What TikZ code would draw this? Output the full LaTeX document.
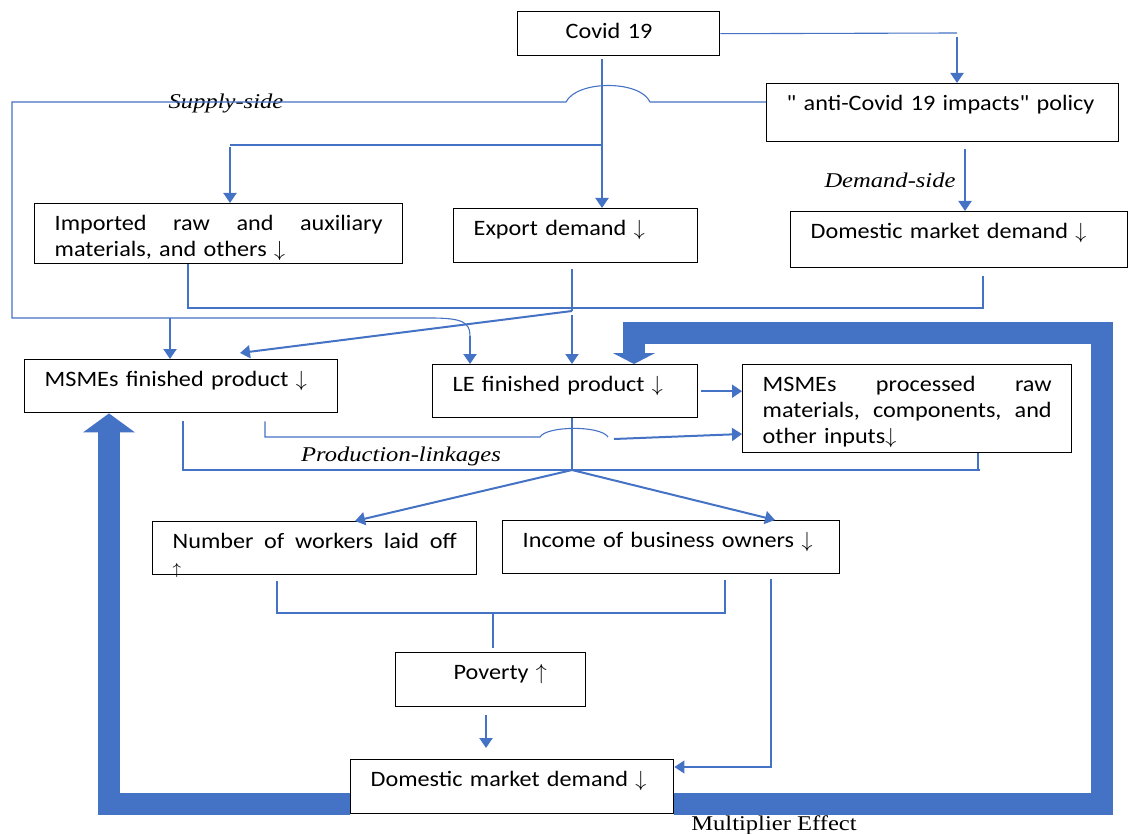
\documentclass[tikz,border=0pt]{standalone}
\usepackage{fontspec}
\setmainfont{Carlito}[FakeStretch=1.1,Ligatures=TeXOff]
\newfontfamily\labelfont{Liberation Serif}[FakeStretch=1.17]
\usetikzlibrary{arrows.meta,calc}
\definecolor{lnblue}{HTML}{4472C4}
\newcommand{\dnarr}{$\downarrow$}
\newcommand{\uparr}{$\uparrow$}

\begin{document}
\begin{tikzpicture}[x=0.5pt,y=-0.5pt,
    box/.style={draw=black,line width=0.7pt,anchor=north west,align=left,
      inner xsep=10pt,inner ysep=0pt,text height=13.5pt,
      font=\fontsize{11}{13}\selectfont},
    ln/.style={draw=lnblue,line width=0.55pt},
    arr/.style={draw=lnblue,line width=1pt,-{Triangle[length=5pt,width=6.5pt]}},
    tag/.style={font=\labelfont\fontsize{10.5}{12}\selectfont\itshape},
    loopband/.style={draw=lnblue,line width=11pt,line join=miter}]
      \useasboundingbox (0,0) rectangle (1129,834);
      \node[box,text width=81pt,text depth=8.5pt] (cov) at (517,11) {\hspace{14pt}Covid 19};
      \node[box,text width=156pt,text depth=15.5pt] (pol) at (766,83) {" anti-Covid 19 impacts" policy};
      \node[box,text width=164pt,text depth=16.5pt] (imp) at (34,203) {Imported\hfill raw\hfill and\hfill auxiliary\\materials, and others \dnarr};
      \node[box,text width=102pt,text depth=13.5pt] (exp) at (453,208) {Export demand \dnarr};
      \node[box,text width=148.5pt,text depth=14.5pt] (dmd1) at (790,211) {Domestic market demand \dnarr};
      \node[box,text width=136.5pt,text depth=13pt] (fin) at (24,359) {MSMEs finished product \dnarr};
      \node[box,text width=112.5pt,text depth=13pt] (le) at (432,364) {LE finished product \dnarr};
      \node[box,text width=144.5pt,text depth=30.5pt] (proc) at (742,364) {MSMEs\hfill processed\hfill raw\\materials,\hfill components,\hfill and\\other inputs\dnarr};
      \node[box,text width=142pt,text depth=13pt] (lay) at (152,521) {Number\hfill of\hfill workers\hfill laid\hfill off\\{\fontsize{8}{9}\selectfont$\uparrow$}};
      \node[box,text width=148.5pt,text depth=13pt] (inc) at (502,520) {Income of business owners \dnarr};
      \node[box,text width=75pt,text depth=13.5pt] (pov) at (395,652) {\hspace{19pt}Poverty \uparr};
      \node[box,text width=141.5pt,text depth=13.5pt] (dmd2) at (350,759) {Domestic market demand \dnarr};
      \node[tag] (sup) at (226,103) {Supply-side};
      \node[tag] (dem) at (890,180) {Demand-side};
      \node[tag] (prl) at (401,456) {Production-linkages};
      \node[font=\labelfont\fontsize{10.5}{12}\selectfont] (mul) at (774,825) {Multiplier Effect};
      \coordinate (c1) at (957,33);
      \coordinate (c2) at (602,145);
      \coordinate (c3) at (230,145);
      \coordinate (s1) at (12,318);
      \coordinate (s2) at (470,336);
      \coordinate (s3) at (170,318);
      \coordinate (j1) at (572,311);
      \coordinate (j2) at (572,470);
      \coordinate (j3) at (493,613);
      \coordinate (p1) at (614,439);
      % covid 19 and policy
      \draw[ln] (cov.east) -- (c1);
      \draw[arr] ([yshift=-2pt]c1) -- (pol.north -| c1);
      \draw[arr] ($(cov.south -| 602,0)+(0,3)$) -- (exp.north -| 602,0);
      \draw[arr] ($(pol.south -| 965,0)+(0,7)$) -- (dmd1.north -| 965,0);
      % supply-side
      \draw[ln] (pol.west |- 0,102) -- (650,102) .. controls (640,80) and (577,80) .. (566,102)
        -- (s1 |- 0,102) -- (s1) -- (430,318) .. controls (462,318) and (470,322) .. (s2);
      \draw[arr] (s2) -- (le.north -| s2);
      \draw[arr] (s3) -- (fin.north -| s3);
      \draw[ln] (c2) -- (c3);
      \draw[arr] ([yshift=-1pt]c3) -- (imp.north -| c3);
      \draw[ln] (imp.south -| 188,0) -- (188,308) -- (983,308) -- ($(dmd1.south -| 983,0)+(0,8)$);
      \draw[ln] ($(exp.south -| j1)+(0,6)$) -- (j1);
      \draw[arr] (j1) -- ($(fin.north -| 240,0)+(0,-6)$);
      \draw[arr] ([yshift=-2pt]j1) -- (le.north -| j1);
      \draw[arr] ([xshift=1.5pt]le.east) -- (proc.west |- le.east);
      % production-linkages
      \draw[ln] ($(fin.south -| 183,0)+(0,8)$) -- (183,470) -- (980,470);
      \draw[ln] (proc.south -| 978,0) -- (978,470);
      \draw[ln] (le.south -| j2) -- (j2);
      \draw[ln] ($(fin.south -| 265,0)+(0,8)$) -- (265,437) -- (540,437) .. controls (546,426) and (600,425) .. (608,437);
      \draw[arr] (p1) -- (proc.west |- 0,434);
      \draw[arr] (j2) -- (lay.north -| 355,0);
      \draw[arr] (j2) -- (inc.north -| 775,0);
      \draw[ln] ($(lay.south -| 277,0)+(0,6)$) -- (277,613) -- (725,613) -- ($(inc.south -| 725,0)+(0,6)$);
      \draw[ln] (j3) -- ($(pov.north -| j3)+(0,-4)$);
      \draw[arr] ($(pov.south -| 486,0)+(0,8)$) -- ($(dmd2.north -| 486,0)+(0,-11)$);
      \draw[arr,line width=0.7pt] ($(inc.south -| 771,0)+(0,5)$) |- (dmd2.east |- 0,767);
      % multiplier effect
      \draw[loopband,-{Triangle[length=5.5pt,width=21pt]}] ($(dmd2.south east)+(0,-10)$) -| (1102,333) -| (le.north -| 634,0);
      \draw[loopband,-{Triangle[length=9.5pt,width=25.5pt]}] ($(dmd2.south west)+(0,-10)$) -| (fin.south -| 109,0);
\end{tikzpicture}
\end{document}
